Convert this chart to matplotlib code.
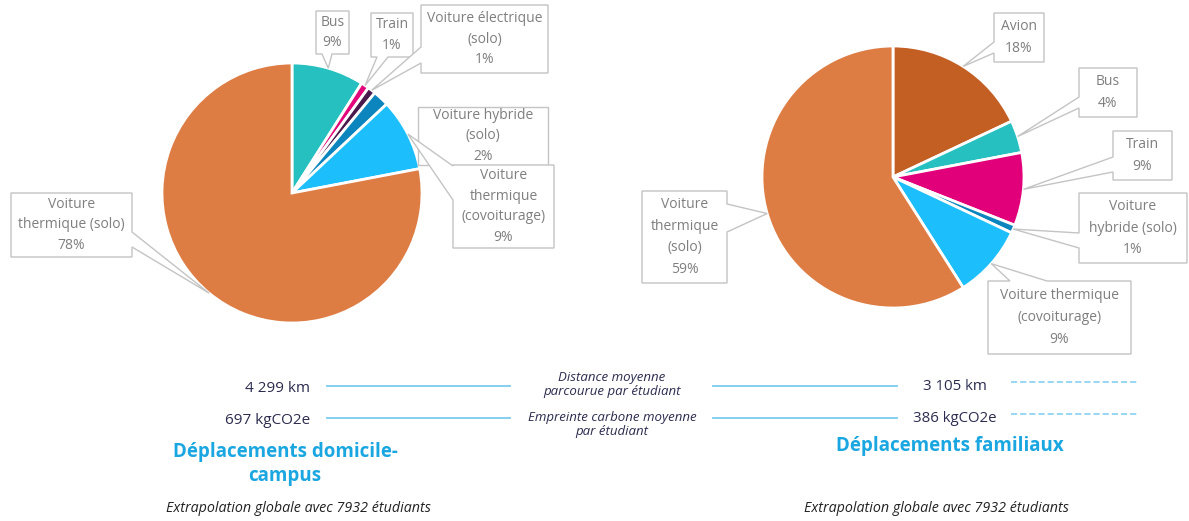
import matplotlib.pyplot as plt
from matplotlib.patches import Polygon
import numpy as np

plt.rcParams['font.family'] = ['Open Sans', 'DejaVu Sans']

# data
left_labels = ["Bus", "Train", "Voiture électrique\n(solo)", "Voiture hybride\n(solo)",
               "Voiture\nthermique\n(covoiturage)", "Voiture\nthermique (solo)"]
left_values = [9, 1, 1, 2, 9, 78]
left_colors = ['#26C0C0', '#E2087C', '#4A1A4C', '#0C85BE', '#1CBFFB', '#DD7C43']

right_labels = ["Avion", "Bus", "Train", "Voiture\nhybride (solo)",
                "Voiture thermique\n(covoiturage)", "Voiture\nthermique\n(solo)"]
right_values = [18, 4, 9, 1, 9, 59]
right_colors = ['#C45F24', '#26C0C0', '#E2007A', '#0C85BE', '#1CBFFB', '#DD7C43']

stat_names = ["Distance moyenne\nparcourue par étudiant", "Empreinte carbone moyenne\npar étudiant"]
left_stats = ["4 299 km", "697 kgCO2e"]
right_stats = ["3 105 km", "386 kgCO2e"]
titles = ["Déplacements domicile-\ncampus", "Déplacements familiaux"]
n_students = 7932

W, H = 1189, 521
fig = plt.figure(figsize=(W / 100, H / 100), dpi=100)
ax = fig.add_axes([0, 0, 1, 1])

GRAY_EDGE = '#C4C4C4'
GRAY_TXT = '#7F7F7F'
NAVY = '#2B2C4E'
BLUE = '#1AA6E0'
LINE = '#7CCBEF'


def callout(wedge, box, side, base, text, fs, ls):
    x0, y0, x1, y1 = box
    pts = []
    if side is not None:
        mid = np.deg2rad((wedge.theta1 + wedge.theta2) / 2)
        cx, cy = wedge.center
        tip = (cx + wedge.r * np.cos(mid), cy + wedge.r * np.sin(mid))
    a, b = base if base else (0, 0)
    pts.append((x0, y0))
    if side == 'top':
        pts += [(a, y0), tip, (b, y0)]
    pts.append((x1, y0))
    if side == 'right':
        pts += [(x1, a), tip, (x1, b)]
    pts.append((x1, y1))
    if side == 'bottom':
        pts += [(b, y1), tip, (a, y1)]
    pts.append((x0, y1))
    if side == 'left':
        pts += [(x0, b), tip, (x0, a)]
    ax.add_patch(Polygon(pts, closed=True, facecolor='white', edgecolor=GRAY_EDGE,
                         linewidth=1, zorder=5))
    ax.text((x0 + x1) / 2, (y0 + y1) / 2, text, ha='center', va='center',
            multialignment='center', fontsize=fs, color=GRAY_TXT, linespacing=ls, zorder=6)


wl, _ = ax.pie(left_values, colors=left_colors, startangle=-90, counterclock=True,
               center=(292, 193), radius=130,
               wedgeprops=dict(edgecolor='white', linewidth=2))
wr, _ = ax.pie(right_values, colors=right_colors, startangle=-90, counterclock=True,
               center=(893, 177), radius=131,
               wedgeprops=dict(edgecolor='white', linewidth=2))

# left callouts: box (x0, y0, x1, y1), side, base
left_boxes = [((316, 11, 349, 54), 'bottom', (322, 332)),
              ((371, 13, 413, 57), 'bottom', (377, 388)),
              ((421, 5, 548, 73), 'left', (47, 63)),
              ((418, 107, 548, 165), None, None),
              ((453, 165, 554, 248), 'left', (166, 200)),
              ((11, 193, 132, 257), 'right', (232, 247))]
for w, lab, v, (box, side, base) in zip(wl, left_labels, left_values, left_boxes):
    callout(w, box, side, base, f"{lab}\n{v}%", 10, 1.5)

right_boxes = [((994, 13, 1044, 62), 'left', (42, 53)),
               ((1079, 68, 1137, 117), 'left', (97, 108)),
               ((1113, 131, 1172, 180), 'left', (157, 172)),
               ((1079, 193, 1187, 263), 'left', (233, 248)),
               ((988, 281, 1131, 354), 'top', (1010, 1047)),
               ((642, 191, 727, 283), 'right', (204, 232))]
for w, lab, v, (box, side, base) in zip(wr, right_labels, right_values, right_boxes):
    callout(w, box, side, base, f"{lab}\n{v}%", 10, 1.6)

# summary block
rows_y = [386, 418]
for i, y in enumerate(rows_y):
    ax.text(310, y + 2, left_stats[i], ha='right', va='center', fontsize=11, color=NAVY)
    ax.plot([327, 510], [y, y], color=LINE, lw=1.3)
    ax.text(612, y - 1 + 7 * (i == 1), stat_names[i], ha='center', va='center',
            fontsize=9.5, style='italic', color=NAVY, linespacing=1.1)
    ax.plot([713, 897], [y, y], color=LINE, lw=1.3)
    ax.text(955, y + 1, right_stats[i], ha='center', va='center', fontsize=10.8, color=NAVY)
    ax.plot([1011, 1137], [y - 4, y - 4], color=LINE, lw=1.1, ls=(0, (4, 2)))

ax.text(285, 464, titles[0], ha='center', va='center', fontsize=13.5, fontweight='bold',
        color=BLUE, linespacing=1.25)
ax.text(950, 446, titles[1], ha='center', va='center', fontsize=13.5, fontweight='bold',
        color=BLUE)
for x in [298, 936]:
    ax.text(x, 509, f"Extrapolation globale avec {n_students} étudiants", ha='center',
            va='center', fontsize=10.3, style='italic', color='#222222')

ax.set_xlim(0, W)
ax.set_ylim(H, 0)
ax.set_aspect('equal')
ax.axis('off')
fig.savefig('out.png', dpi=100)
